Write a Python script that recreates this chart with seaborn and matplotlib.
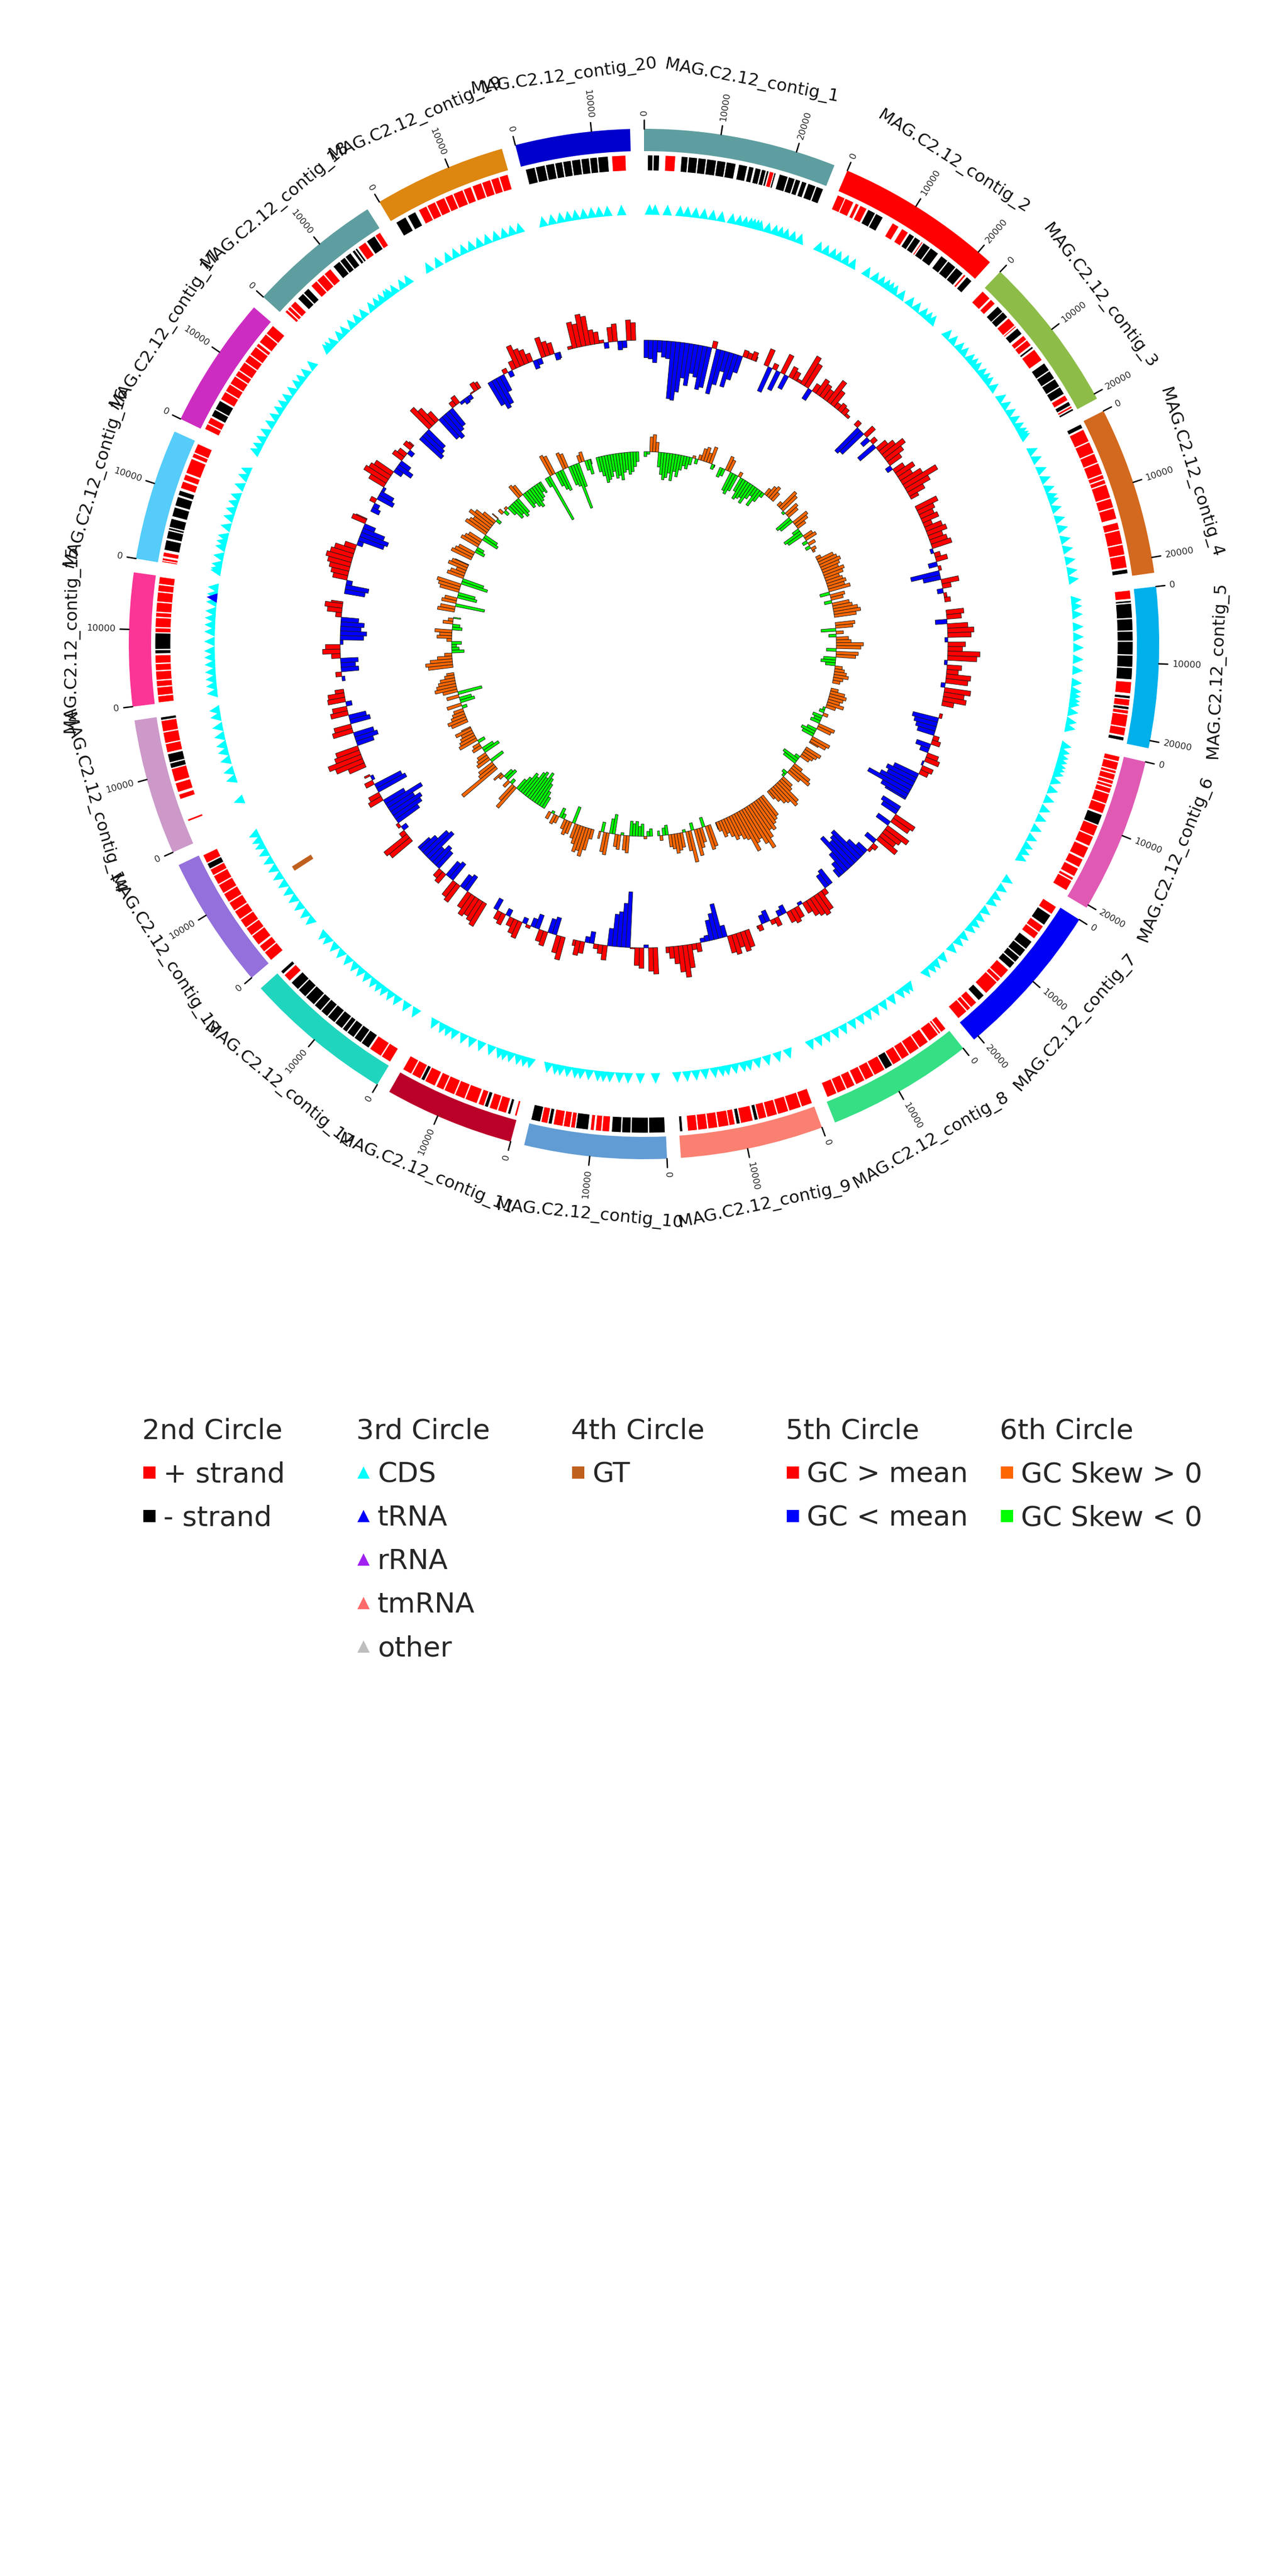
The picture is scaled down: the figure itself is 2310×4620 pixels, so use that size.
import numpy as np
import pandas as pd
import matplotlib
matplotlib.use("Agg")
import matplotlib.pyplot as plt
from matplotlib.lines import Line2D
import seaborn as sns

# ---- data ----
CONTIG_NAMES = [f"MAG.C2.12_contig_{i}" for i in range(1, 21)]
CONTIG_LENGTHS = [25200, 22000, 20700, 22000, 21000, 20400, 20700, 19200, 18700, 18600,
                  17000, 19600, 17400, 17800, 17400, 17200, 17300, 17650, 17300, 15000]
CONTIG_COLORS = ["#5F9EA0", "#FF0000", "#8DBD48", "#D2691E", "#00B0EB", "#E05AB4", "#0000F5",
                 "#35DF83", "#FA8072", "#619CD4", "#BA0029", "#20D5BE", "#9370DB", "#CC99C9",
                 "#FA3595", "#55CCF9", "#CD2CC1", "#5F9EA0", "#DD8610", "#0000CD"]
TICK_STEP = 10000

# genes per contig: (start kb, end kb, strand)
GENES = [
    [(0.5, 1.2, "-"), (1.3, 2.1, "-"), (2.9, 4.3, "+"), (5.1, 6.0, "-"), (6.1, 7.3, "-"), (7.4, 8.5, "-"),
     (8.6, 9.9, "-"), (10.0, 11.2, "-"), (11.3, 12.6, "-"), (13.0, 14.2, "-"), (14.4, 15.1, "-"),
     (15.3, 16.1, "-"), (16.2, 16.8, "-"), (16.9, 17.2, "-"), (17.3, 17.9, "+"), (17.95, 18.2, "-"),
     (18.7, 19.9, "-"), (20.0, 20.9, "-"), (21.0, 21.7, "-"), (21.9, 22.6, "-"), (22.8, 23.9, "-"),
     (24.0, 25.0, "-")],
    [(0.1, 1.2, "+"), (1.25, 2.5, "+"), (2.8, 3.3, "+"), (3.5, 4.5, "+"), (4.7, 5.8, "-"), (5.9, 7.0, "-"),
     (8.5, 9.5, "+"), (10.0, 11.0, "+"), (11.2, 12.0, "-"), (12.1, 13.0, "-"), (13.2, 13.4, "+"),
     (13.5, 14.6, "-"), (14.7, 16.0, "-"), (16.5, 17.6, "-"), (17.7, 19.0, "-"), (19.1, 20.3, "-"),
     (20.5, 20.8, "+"), (21.0, 21.9, "-")],
    [(0.1, 1.5, "+"), (1.7, 2.5, "+"), (3.0, 4.0, "-"), (4.05, 5.0, "-"), (5.2, 6.5, "+"), (6.6, 6.8, "+"),
     (7.0, 8.0, "-"), (8.3, 9.0, "+"), (9.1, 10.0, "+"), (10.2, 10.5, "-"), (10.7, 12.5, "+"),
     (13.0, 14.2, "-"), (14.3, 15.5, "-"), (15.6, 16.8, "-"), (16.9, 18.0, "-"), (18.2, 19.0, "+"),
     (19.2, 19.8, "-"), (19.9, 20.2, "+"), (20.3, 20.6, "-")],
    [(0.2, 0.8, "-"), (1.0, 2.8, "+"), (2.9, 4.5, "+"), (4.6, 5.9, "+"), (6.0, 7.6, "+"), (7.7, 8.3, "+"),
     (8.4, 9.0, "+"), (9.1, 11.0, "+"), (11.1, 12.4, "+"), (12.5, 14.0, "+"), (14.5, 15.5, "+"),
     (15.6, 17.5, "+"), (17.6, 19.0, "+"), (19.1, 20.8, "+"), (21.0, 21.6, "-")],
    [(0.1, 1.3, "+"), (1.5, 1.8, "-"), (1.9, 3.9, "-"), (4.0, 5.6, "-"), (5.7, 7.0, "-"), (7.1, 8.9, "-"),
     (9.0, 10.6, "-"), (10.7, 12.3, "-"), (12.6, 14.2, "+"), (14.5, 14.9, "-"), (15.0, 15.9, "+"),
     (16.0, 16.4, "-"), (16.5, 17.0, "+"), (17.1, 18.8, "+"), (18.9, 20.0, "+"), (20.2, 20.7, "-")],
    [(0.1, 0.8, "+"), (0.9, 2.0, "+"), (2.1, 2.5, "+"), (2.6, 3.4, "+"), (3.5, 4.0, "+"), (4.1, 4.5, "+"),
     (4.6, 5.3, "+"), (5.4, 6.8, "+"), (6.9, 8.2, "+"), (8.4, 9.9, "-"), (10.0, 11.5, "+"),
     (11.6, 13.0, "+"), (13.2, 14.8, "+"), (15.0, 16.2, "+"), (16.4, 17.6, "+"), (17.8, 18.2, "+"),
     (18.3, 19.8, "+")],
    [(0.2, 1.4, "+"), (1.6, 3.2, "-"), (3.4, 4.4, "+"), (4.5, 5.5, "+"), (6.0, 7.3, "-"), (7.4, 8.6, "-"),
     (8.7, 9.6, "-"), (9.7, 10.7, "-"), (11.0, 12.5, "+"), (12.6, 13.2, "+"), (13.3, 15.4, "+"),
     (15.8, 16.8, "-"), (17.2, 18.2, "+"), (18.3, 18.9, "+"), (19.0, 20.5, "+")],
    [(0.2, 1.0, "+"), (1.1, 1.4, "+"), (1.5, 3.0, "+"), (3.2, 4.6, "+"), (4.7, 6.2, "+"), (6.3, 7.5, "+"),
     (7.6, 8.9, "+"), (9.0, 10.1, "-"), (10.2, 11.8, "+"), (11.9, 13.2, "+"), (13.3, 14.6, "+"),
     (14.8, 16.0, "+"), (16.1, 17.4, "+"), (17.5, 18.9, "+")],
    [(0.1, 1.6, "+"), (1.7, 3.4, "+"), (3.5, 5.0, "+"), (5.1, 6.5, "+"), (6.6, 7.7, "+"), (7.8, 8.3, "-"),
     (8.5, 10.2, "+"), (10.3, 10.8, "-"), (11.0, 11.8, "+"), (11.85, 13.3, "+"), (13.4, 14.7, "+"),
     (14.8, 16.1, "+"), (16.2, 17.5, "+"), (18.2, 18.6, "-")],
    [(0.1, 2.3, "-"), (2.4, 4.7, "-"), (4.8, 6.0, "-"), (6.1, 7.4, "-"), (7.7, 8.7, "+"), (8.8, 9.6, "+"),
     (9.8, 10.3, "+"), (10.6, 12.3, "-"), (12.4, 13.0, "+"), (13.1, 14.0, "+"), (14.1, 15.4, "+"),
     (15.6, 16.1, "-"), (16.2, 17.1, "+"), (17.2, 18.5, "-")],
    [(0.1, 0.4, "+"), (1.0, 1.4, "-"), (1.6, 2.8, "+"), (2.9, 4.0, "+"), (4.2, 4.7, "-"), (4.8, 5.6, "+"),
     (5.8, 7.5, "+"), (7.6, 9.0, "+"), (9.1, 10.6, "+"), (10.7, 11.8, "+"), (12.0, 13.5, "+"),
     (13.6, 14.1, "-"), (14.2, 15.5, "+"), (15.6, 16.9, "+")],
    [(0.1, 1.5, "+"), (1.6, 3.4, "+"), (3.6, 4.8, "-"), (4.9, 6.0, "-"), (6.1, 7.2, "-"), (7.3, 8.0, "-"),
     (8.1, 9.3, "-"), (9.4, 10.6, "-"), (10.7, 11.8, "-"), (11.9, 13.0, "-"), (13.1, 14.6, "-"),
     (14.7, 16.0, "-"), (16.1, 17.4, "-"), (17.7, 18.8, "+"), (19.0, 19.5, "-")],
    [(0.1, 1.5, "+"), (1.6, 2.6, "+"), (2.8, 4.3, "+"), (4.4, 5.6, "+"), (5.7, 7.0, "+"), (7.1, 8.4, "+"),
     (8.5, 9.8, "+"), (9.9, 11.2, "+"), (11.3, 12.6, "+"), (12.7, 14.0, "+"), (14.1, 15.0, "+"),
     (15.1, 15.9, "-"), (16.0, 17.2, "+")],
    [(3.0, 3.3, "+"), (6.2, 6.9, "+"), (7.2, 8.5, "+"), (8.7, 10.5, "+"), (10.6, 11.3, "-"), (11.4, 12.6, "-"),
     (12.8, 14.0, "+"), (14.1, 15.6, "+"), (15.7, 17.2, "+"), (17.3, 17.7, "-")],
    [(0.1, 1.0, "+"), (1.1, 2.2, "+"), (2.3, 3.1, "+"), (3.2, 4.4, "+"), (4.5, 5.4, "+"), (5.5, 6.6, "+"),
     (6.8, 7.3, "-"), (7.4, 9.6, "-"), (9.7, 10.3, "+"), (10.4, 11.7, "+"), (11.8, 12.4, "+"),
     (12.5, 13.8, "+"), (13.9, 15.2, "+"), (15.3, 16.2, "+"), (16.3, 17.3, "+")],
    [(0.1, 0.3, "+"), (0.35, 0.7, "+"), (0.9, 1.5, "+"), (1.8, 3.2, "-"), (3.4, 4.5, "-"), (4.6, 4.9, "-"),
     (5.0, 6.2, "-"), (6.5, 7.8, "-"), (8.0, 9.3, "-"), (9.5, 10.2, "-"), (10.5, 11.5, "+"),
     (11.7, 12.5, "+"), (12.7, 14.8, "+"), (15.0, 15.6, "+"), (15.7, 17.0, "+")],
    [(0.2, 1.0, "+"), (1.1, 2.0, "+"), (2.2, 3.2, "-"), (3.3, 4.6, "-"), (4.8, 6.0, "+"), (6.1, 7.2, "+"),
     (7.3, 8.5, "+"), (8.6, 9.4, "+"), (9.5, 10.8, "+"), (10.9, 12.0, "+"), (12.1, 13.4, "+"),
     (13.5, 14.0, "+"), (14.2, 15.6, "+"), (15.7, 17.1, "+")],
    [(0.5, 0.9, "+"), (1.0, 1.5, "+"), (1.6, 2.5, "+"), (3.0, 4.0, "-"), (4.1, 5.0, "-"), (5.5, 6.5, "+"),
     (6.6, 7.8, "+"), (7.9, 9.0, "+"), (9.5, 10.6, "-"), (10.7, 11.5, "-"), (11.6, 12.5, "-"),
     (12.8, 13.2, "-"), (13.3, 13.6, "-"), (13.8, 15.0, "+"), (15.2, 16.5, "-"), (16.6, 17.4, "+")],
    [(0.5, 2.0, "-"), (2.3, 3.5, "-"), (4.0, 5.2, "+"), (5.3, 6.5, "+"), (6.6, 7.9, "+"), (8.0, 9.1, "+"),
     (9.2, 10.6, "+"), (10.7, 11.8, "+"), (12.0, 13.3, "+"), (13.4, 14.6, "+"), (14.7, 15.8, "+"),
     (15.9, 17.1, "+")],
    [(0.5, 1.8, "-"), (1.9, 3.2, "-"), (3.3, 4.5, "-"), (4.6, 5.6, "-"), (5.7, 6.8, "-"), (6.9, 8.1, "-"),
     (8.2, 9.3, "-"), (9.4, 10.4, "-"), (10.5, 11.9, "-"), (12.4, 14.3, "+")],
]

# other features (contig index, position kb)
TRNA_SITES = [(14, 15.25)]
GT_SITES = [(12, 8.6, 9.4)]

# GC content minus mean, per 1 kb window (scaled to the largest deviation)
GC_DEV = [
    [-0.30, -0.32, -0.38, -0.20, -0.28, -0.30, -0.98, -1.0, -0.85, -0.60, -0.72, -0.50, -0.55, -0.75,
     -0.70, 0.12, -0.78, -0.60, -0.35, -0.60, -0.45, -0.30, 0.12, 0.10, 0.15, 0.08],
    [0.30, -0.45, 0.10, -0.35, 0.35, -0.25, 0.20, 0.15, 0.05, 0.55, 0.45, -0.20, 0.15, 0.30, 0.25, 0.20,
     0.45, 0.30, 0.10, 0.15, 0.12, 0.05],
    [0.10, -0.55, -0.50, 0.20, -0.15, 0.10, -0.35, 0.20, 0.30, 0.45, 0.35, 0.25, -0.10, 0.20, 0.35, 0.25,
     0.40, 0.65, 0.45, 0.30, 0.15],
    [0.40, 0.30, 0.25, 0.30, 0.15, 0.30, 0.35, 0.25, 0.30, 0.35, -0.05, 0.10, 0.20, -0.15, 0.05, -0.50,
     -0.30, 0.30, 0.15, -0.10, 0.05, 0.10],
    [0.30, 0.25, -0.20, 0.35, 0.45, 0.40, -0.05, 0.30, 0.25, 0.55, 0.50, -0.05, 0.25, 0.20, 0.42, 0.38,
     -0.07, 0.45, 0.35, 0.40, 0.20],
    [0.05, -0.45, -0.40, -0.35, -0.30, 0.10, 0.15, -0.25, -0.15, 0.20, 0.25, -0.03, 0.20, 0.15, -0.45,
     -0.55, -0.50, -0.60, -0.80, -0.50, -0.40],
    [-0.35, -0.30, 0.40, 0.35, -0.25, 0.45, 0.35, 0.30, 0.40, -0.20, 0.10, 0.05, -0.20, -0.35, -0.65,
     -0.60, -0.55, -0.70, -0.40, -0.25, -0.15],
    [-0.30, -0.25, 0.10, 0.35, 0.40, 0.35, 0.30, 0.20, -0.05, 0.20, 0.25, 0.20, -0.15, -0.10, 0.15, 0.08,
     -0.20, -0.15, 0.10, 0.05],
    [0.30, 0.35, 0.25, 0.35, 0.30, -0.20, -0.60, -0.45, -0.35, -0.10, -0.07, 0.15, 0.10, 0.40, 0.55, 0.45,
     0.30, 0.20, 0.10],
    [0.45, 0.40, -0.05, 0.35, 0.30, 0.02, -0.95, -0.75, -0.60, -0.55, -0.30, 0.25, 0.15, 0.08, -0.20,
     -0.10, 0.20, 0.25, 0.10],
    [0.40, 0.30, -0.30, -0.25, 0.25, 0.20, -0.25, -0.15, 0.05, -0.10, 0.30, 0.25, 0.15, -0.12, 0.20, 0.15,
     -0.20],
    [0.45, 0.40, 0.35, 0.40, 0.30, -0.30, -0.25, 0.35, 0.30, -0.35, -0.30, 0.20, 0.15, -0.35, -0.40, -0.30,
     -0.60, -0.55, -0.35, -0.25],
    [0.45, 0.50, 0.10, -0.10, 0.05, -0.45, -0.55, -0.60, -0.50, -0.70, -0.40, 0.25, 0.20, -0.55, -0.50,
     0.15, -0.05, 0.10],
    [0.30, 0.50, 0.60, 0.45, 0.40, -0.30, -0.40, -0.35, 0.35, 0.30, -0.35, -0.30, 0.30, 0.25, -0.10, 0.30,
     0.28, 0.15],
    [-0.05, 0.10, -0.30, -0.25, -0.30, 0.15, 0.30, 0.25, -0.05, -0.40, -0.45, -0.35, -0.40, -0.30, 0.10,
     0.25, 0.30, 0.20],
    [-0.35, -0.40, -0.10, 0.25, 0.30, 0.35, 0.40, 0.45, 0.40, 0.35, 0.20, -0.10, -0.45, -0.50, -0.40,
     -0.20, 0.25, 0.20],
    [-0.15, -0.10, 0.10, -0.30, -0.25, -0.05, 0.30, 0.45, 0.40, 0.35, -0.15, -0.30, -0.20, 0.20, 0.15,
     -0.10, 0.15, 0.10],
    [-0.50, -0.45, -0.40, 0.45, 0.35, 0.20, -0.45, -0.50, -0.40, -0.35, 0.10, 0.15, -0.05, -0.10, -0.08,
     0.02, 0.15, 0.12],
    [-0.45, -0.55, -0.50, -0.30, 0.08, -0.10, 0.15, 0.40, 0.30, 0.25, 0.15, -0.15, -0.10, 0.35, 0.25,
     0.20, -0.12, -0.10],
    [0.05, 0.45, 0.40, 0.55, 0.50, 0.25, 0.20, 0.05, -0.10, 0.25, 0.30, -0.15, -0.12, 0.35, 0.30],
]

# GC skew per 1 kb window (scaled to the largest absolute skew)
GC_SKEW = [
    [-0.10, -0.05, 0.30, 0.35, 0.20, -0.30, -0.45, -0.55, -0.50, -0.40, -0.55, -0.35, -0.45, -0.30,
     -0.20, -0.25, -0.15, 0.05, -0.10, 0.10, 0.25, 0.30, 0.20, 0.35, -0.10, -0.05],
    [-0.20, -0.15, 0.30, 0.25, -0.40, -0.45, -0.35, 0.10, -0.30, -0.45, -0.40, -0.35, -0.45, -0.30,
     -0.20, -0.40, -0.25, -0.10, 0.15, 0.25, 0.30, 0.20],
    [0.10, 0.45, 0.40, -0.05, 0.30, 0.25, -0.35, -0.30, 0.35, 0.30, 0.20, -0.15, -0.40, -0.35, 0.20,
     0.25, -0.10, 0.15, -0.10, 0.10, 0.05],
    [0.10, 0.35, 0.40, 0.45, 0.40, 0.35, 0.45, 0.40, 0.30, 0.35, 0.40, 0.35, 0.45, -0.20, 0.30, 0.25,
     -0.15, 0.35, 0.40, 0.50, 0.55, 0.45],
    [0.40, 0.35, -0.30, 0.15, -0.15, 0.25, 0.30, 0.55, 0.50, -0.20, 0.45, 0.40, -0.25, -0.30, -0.20,
     0.15, 0.20, 0.25, 0.30, 0.20, 0.15],
    [0.15, 0.30, 0.35, 0.30, 0.25, 0.35, 0.20, -0.05, -0.10, 0.10, -0.20, -0.15, -0.20, 0.35, 0.30,
     -0.20, -0.30, -0.25, 0.40, 0.35, 0.20],
    [0.35, 0.30, 0.25, 0.20, -0.10, -0.35, -0.30, 0.20, 0.45, 0.50, 0.30, -0.10, -0.05, 0.25, 0.30, 0.55,
     0.60, 0.45, 0.40, 0.30, 0.20],
    [0.50, 0.55, 0.60, 0.70, 0.65, 0.80, 1.00, 0.85, 0.70, 0.75, 0.90, 0.60, 0.55, 0.45, 0.50, 0.40,
     0.30, 0.35, 0.20, 0.15],
    [0.45, 0.50, -0.20, 0.30, 0.40, 0.55, -0.15, 0.65, 0.40, -0.05, 0.30, 0.35, 0.40, 0.30, 0.25, -0.20,
     -0.15, 0.10, -0.10],
    [-0.15, -0.10, 0.05, -0.25, -0.20, -0.30, -0.25, -0.30, 0.35, 0.30, -0.05, 0.30, 0.25, -0.40, -0.30,
     0.45, 0.40, -0.20, 0.15],
    [0.20, 0.45, 0.60, 0.50, 0.55, 0.40, 0.30, -0.35, 0.25, 0.30, 0.20, -0.10, -0.20, 0.15, 0.20, -0.05,
     0.15],
    [-0.25, -0.35, -0.50, -0.60, -0.70, -0.55, -0.65, -0.60, -0.45, -0.50, -0.35, -0.25, 0.55, 0.40,
     -0.10, 0.15, -0.25, -0.20, 0.10, 0.20],
    [0.90, 0.40, 0.35, -0.30, 0.30, 0.25, 0.20, -0.35, -0.25, 0.20, 0.15, -0.15, 0.40, 0.35, 0.30, 0.25,
     0.35, 0.20],
    [0.35, 0.40, 0.30, 0.25, 0.20, -0.10, 0.30, -0.30, -0.25, 0.25, -0.50, 0.30, 0.45, 0.40, 0.35, 0.30,
     0.20, 0.15],
    [0.50, 0.55, 0.45, 0.30, 0.15, -0.25, -0.15, -0.10, -0.20, 0.10, 0.30, 0.25, 0.35, -0.20, -0.15,
     0.20, 0.10, -0.15],
    [0.35, 0.30, -0.60, 0.30, 0.25, -0.40, -0.35, 0.40, 0.45, 0.50, -0.55, -0.45, 0.35, 0.30, 0.20, 0.40,
     0.35, 0.30],
    [0.45, 0.40, 0.35, -0.20, -0.15, 0.40, 0.35, 0.30, -0.35, -0.30, 0.50, 0.45, 0.40, 0.55, 0.45, 0.30,
     -0.10, 0.15],
    [0.10, -0.10, 0.05, -0.20, -0.35, -0.30, -0.40, -0.35, 0.30, 0.25, -0.35, -0.30, -0.40, -0.45, -0.35,
     -0.30, -0.20, -0.25],
    [-0.20, -1.00, 0.45, 0.40, -0.30, -0.40, -0.45, 0.35, 0.30, -0.40, -0.45, -0.95, -0.50, 0.15, 0.20,
     -0.20, -0.30, -0.10],
    [-0.30, -0.40, -0.55, -0.50, -0.45, -0.35, -0.50, -0.45, -0.55, -0.40, -0.35, -0.45, -0.40, -0.30,
     -0.20],
]
WINDOW = 1000

LEGEND_STRAND = [("#FF0000", "+ strand"), ("#000000", "- strand")]
LEGEND_FEATURE = [("#00FFFF", "CDS"), ("#0000FF", "tRNA"), ("#A020F0", "rRNA"),
                  ("#FF6A6A", "tmRNA"), ("#BEBEBE", "other")]
LEGEND_GT = [("#C0601E", "GT")]
LEGEND_GC = [("#FF0000", "GC > mean"), ("#0000FF", "GC < mean")]
LEGEND_SKEW = [("#FF6600", "GC Skew > 0"), ("#00FF00", "GC Skew < 0")]

# ---- layout (radii in pixels of the 2310 px square polar axes) ----
GAP_DEG = 1.55
R_SECTOR = (884, 924)
R_STRAND = (849, 877)
R_FEAT = (770, 789)
R_GT = (707, 747)
GC_BASE, GC_HALF = 545, 105
SK_BASE, SK_HALF = 345, 88

sns.set_theme(style="white")
plt.rcParams["font.family"] = ["DejaVu Sans"]

total = sum(CONTIG_LENGTHS)
deg_per_bp = (360 - GAP_DEG * len(CONTIG_LENGTHS)) / total
starts = []
a = 0.0
for L in CONTIG_LENGTHS:
    starts.append(a)
    a += L * deg_per_bp + GAP_DEG


def theta(ci, bp):
    return np.deg2rad(starts[ci] + bp * deg_per_bp)


# window table for the two GC tracks
rows = []
for ci, L in enumerate(CONTIG_LENGTHS):
    for j, (g, s) in enumerate(zip(GC_DEV[ci], GC_SKEW[ci])):
        w0 = j * WINDOW
        w1 = min(L, w0 + WINDOW)
        rows.append(dict(contig=ci, start=w0, end=w1, gc=g, sk=s))
win = pd.DataFrame(rows)
win["theta"] = [theta(c, (s + e) / 2) for c, s, e in zip(win["contig"], win["start"], win["end"])]
win["width"] = (win["end"] - win["start"]) * np.deg2rad(deg_per_bp)

fig = plt.figure(figsize=(7.7, 15.4), dpi=300)
ax = fig.add_axes([0, 0.5, 1, 0.5], projection="polar")
ax.set_theta_zero_location("N")
ax.set_theta_direction(-1)
ax.set_ylim(0, 1155)
ax.set_axis_off()

# outer sector ring, ticks and names
for ci, (name, L, col) in enumerate(zip(CONTIG_NAMES, CONTIG_LENGTHS, CONTIG_COLORS)):
    t0, t1 = theta(ci, 0), theta(ci, L)
    ax.bar((t0 + t1) / 2, R_SECTOR[1] - R_SECTOR[0], width=t1 - t0, bottom=R_SECTOR[0],
           color=col, linewidth=0)
    for pos in range(0, L + 1, TICK_STEP):
        t = theta(ci, pos)
        ax.plot([t, t], [R_SECTOR[1], R_SECTOR[1] + 16], color="black", lw=0.6)
        deg = np.rad2deg(t) % 360
        if deg < 180:
            rot, ha = 90 - deg, "left"
        else:
            rot, ha = 270 - deg, "right"
        ax.text(t, R_SECTOR[1] + 24, str(pos), rotation=rot, rotation_mode="anchor",
                ha=ha, va="center", fontsize=3.9, color="#222222")
    mid = np.rad2deg((t0 + t1) / 2)
    rot = 180 - mid if 90 < mid < 270 else -mid
    ax.text((t0 + t1) / 2, 1028, name, rotation=rot, rotation_mode="anchor",
            ha="center", va="center", fontsize=7.4, color="#111111")

# strand track and feature markers
tri_h = 8.5 / R_FEAT[0]
for ci, genes in enumerate(GENES):
    for s, e, strand in genes:
        t0, t1 = theta(ci, s * 1000), theta(ci, e * 1000)
        ax.bar((t0 + t1) / 2, R_STRAND[1] - R_STRAND[0], width=t1 - t0, bottom=R_STRAND[0],
               color="#FF0000" if strand == "+" else "#000000", edgecolor="white", linewidth=0.25)
        tm = (t0 + t1) / 2
        ax.fill([tm - tri_h, tm + tri_h, tm], [R_FEAT[0], R_FEAT[0], R_FEAT[1]],
                color="#00FFFF", linewidth=0)
for ci, pos in TRNA_SITES:
    tm = theta(ci, pos * 1000)
    ax.fill([tm - tri_h, tm + tri_h, tm], [R_FEAT[0], R_FEAT[0], R_FEAT[1]],
            color="#0000FF", linewidth=0)
for ci, s, e in GT_SITES:
    t0, t1 = theta(ci, s * 1000), theta(ci, e * 1000)
    ax.bar((t0 + t1) / 2, R_GT[1] - R_GT[0], width=t1 - t0, bottom=R_GT[0],
           color="#C0601E", linewidth=0)

# GC content and GC skew
ax.bar(win["theta"], win["gc"] * GC_HALF, width=win["width"], bottom=GC_BASE,
       color=np.where(win["gc"] > 0, "#FF0000", "#0000FF"), edgecolor="#1a1a1a", linewidth=0.22)
ax.bar(win["theta"], win["sk"] * SK_HALF, width=win["width"], bottom=SK_BASE,
       color=np.where(win["sk"] > 0, "#FF6600", "#00FF00"), edgecolor="#1a1a1a", linewidth=0.22)

# legends
columns = [(0.1105, "2nd Circle", LEGEND_STRAND, "s"),
           (0.2768, "3rd Circle", LEGEND_FEATURE, "^"),
           (0.4434, "4th Circle", LEGEND_GT, "s"),
           (0.6101, "5th Circle", LEGEND_GC, "s"),
           (0.7763, "6th Circle", LEGEND_SKEW, "s")]
for x0, title, items, mk in columns:
    handles = [Line2D([0], [0], marker=mk, linestyle="none", markerfacecolor=c,
                      markeredgecolor="none", markersize=5.5) for c, _ in items]
    fig.legend(handles, [lab for _, lab in items], title=title, loc="upper left",
               bbox_to_anchor=(x0, 0.4497), frameon=False, fontsize=12,
               title_fontsize=12, handlelength=0.5, handletextpad=0.25,
               labelspacing=0.6, borderpad=0, borderaxespad=0, alignment="left")

fig.savefig("out.png", dpi=300, facecolor="white")
